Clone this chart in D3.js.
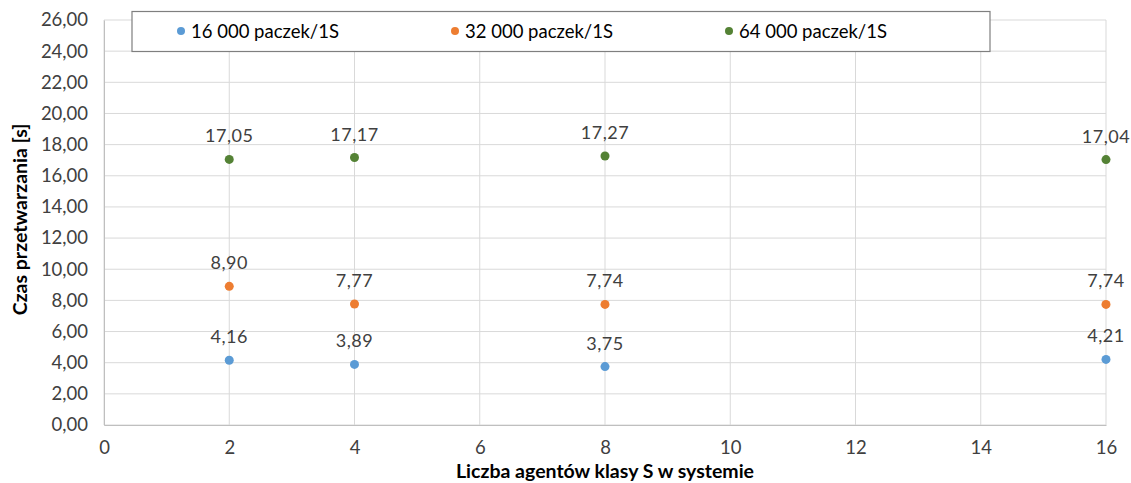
<!DOCTYPE html>
<html>
<head>
<meta charset="utf-8">
<script src="https://cdn.jsdelivr.net/npm/d3@7"></script>
<style>
  html, body { margin: 0; padding: 0; background: #fff; }
  svg { display: block; font-family: Lato, "Open Sans", sans-serif; }
</style>
</head>
<body>
<svg id="chart" width="1131" height="483"></svg>
<script>
// Number of S-class agents in the system
const agents = [2, 4, 8, 16];
// Processing time [s] per packet load
const series16k = [4.16, 3.89, 3.75, 4.21];
const series32k = [8.90, 7.77, 7.74, 7.74];
const series64k = [17.05, 17.17, 17.27, 17.04];
const seriesNames = ["16 000 paczek/1S", "32 000 paczek/1S", "64 000 paczek/1S"];
const seriesColors = ["#5B9BD5", "#ED7D31", "#548235"];
const xTicks = [0, 2, 4, 6, 8, 10, 12, 14, 16];
const yTicks = [0, 2, 4, 6, 8, 10, 12, 14, 16, 18, 20, 22, 24, 26];

const allSeries = [series16k, series32k, series64k];

const svg = d3.select("#chart");
const margin = { left: 104, right: 25, top: 20, bottom: 58 };
const W = 1131, H = 483;

const x = d3.scaleLinear().domain([0, 16]).range([margin.left, W - margin.right]);
const y = d3.scaleLinear().domain([0, 26]).range([H - margin.bottom, margin.top]);

const fmt = v => d3.format(".2f")(v).replace(".", ",");

// Gridlines
const grid = svg.append("g");
grid.selectAll("line.h").data(yTicks).join("line")
  .attr("x1", x(0)).attr("x2", x(16))
  .attr("y1", d => y(d)).attr("y2", d => y(d))
  .attr("stroke", "#d9d9d9").attr("stroke-width", 1);
grid.selectAll("line.v").data(xTicks).join("line")
  .attr("x1", d => x(d)).attr("x2", d => x(d))
  .attr("y1", y(0)).attr("y2", y(26))
  .attr("stroke", "#d9d9d9").attr("stroke-width", 1);

// Axes
const yAxis = d3.axisLeft(y).tickValues(yTicks).tickFormat(fmt).tickSize(0).tickPadding(16);
const gy = svg.append("g").attr("transform", `translate(${x(0)},0)`).call(yAxis);
gy.select(".domain").attr("stroke", "#bfbfbf");
gy.selectAll("text").attr("font-size", 18.5).attr("fill", "#404040")
  .attr("font-family", "Lato, sans-serif");

const xAxis = d3.axisBottom(x).tickValues(xTicks).tickFormat(d3.format("d")).tickSize(0).tickPadding(16);
const gx = svg.append("g").attr("transform", `translate(0,${y(0)})`).call(xAxis);
gx.select(".domain").attr("stroke", "#bfbfbf");
gx.selectAll("text").attr("font-size", 18.5).attr("fill", "#404040")
  .attr("font-family", "Lato, sans-serif");

// Axis titles
svg.append("text")
  .attr("x", (x(0) + x(16)) / 2).attr("y", 478)
  .attr("text-anchor", "middle").attr("font-weight", "bold")
  .attr("font-size", 19.5).attr("fill", "#000")
  .text("Liczba agentów klasy S w systemie");

svg.append("text")
  .attr("transform", `translate(27,${(y(0) + y(26)) / 2 - 3}) rotate(-90)`)
  .attr("text-anchor", "middle").attr("font-weight", "bold")
  .attr("font-size", 19.5).attr("fill", "#000")
  .text("Czas przetwarzania [s]");

// Points and value labels
allSeries.forEach((vals, i) => {
  const g = svg.append("g");
  const pts = agents.map((a, j) => ({ a, v: vals[j] }));
  g.selectAll("circle").data(pts).join("circle")
    .attr("cx", d => x(d.a)).attr("cy", d => y(d.v))
    .attr("r", 4.5).attr("fill", seriesColors[i]);
  g.selectAll("text").data(pts).join("text")
    .attr("x", d => x(d.a)).attr("y", d => y(d.v) - 17)
    .attr("text-anchor", "middle").attr("font-size", 18)
    .attr("fill", "#404040").attr("letter-spacing", 0.5)
    .text(d => fmt(d.v));
});

// Legend
const legend = svg.append("g");
legend.append("rect")
  .attr("x", 132).attr("y", 11.5).attr("width", 858).attr("height", 40)
  .attr("fill", "#fff").attr("stroke", "#7f7f7f").attr("stroke-width", 1.2);
const legendX = [181, 455, 729];
seriesNames.forEach((name, i) => {
  legend.append("circle").attr("cx", legendX[i]).attr("cy", 31).attr("r", 4)
    .attr("fill", seriesColors[i]);
  legend.append("text").attr("x", legendX[i] + 10).attr("y", 37.5)
    .attr("font-size", 18.5).attr("fill", "#000").text(name);
});
</script>
</body>
</html>
